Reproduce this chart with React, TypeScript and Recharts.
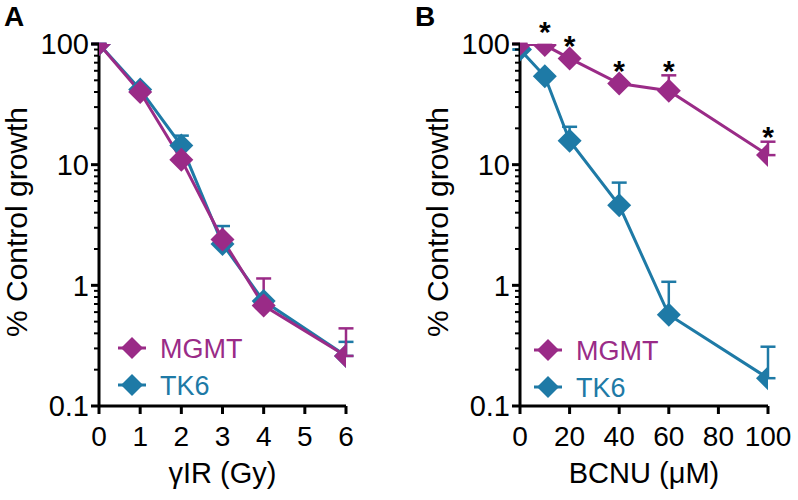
import React from 'react';
import { LineChart, Line, XAxis, YAxis, ErrorBar, LabelList, Legend } from 'recharts';

// ---------- data ----------
const seriesNames = ['MGMT', 'TK6'];

// Panel A: gamma IR (Gy)
const doseA = [0, 1, 2, 3, 4, 6];
const mgmtA = [100, 40, 11, 2.4, 0.68, 0.26];
const mgmtAErr = [0, 0, 0, 0, 0.46, 0.18];
const tk6A = [100, 42, 14.4, 2.2, 0.74, 0.26];
const tk6AErr = [0, 0, 3, 0.9, 0, 0.08];
const xTicksA = [0, 1, 2, 3, 4, 5, 6];

// Panel B: BCNU (uM)
const doseB = [0, 10, 20, 40, 60, 100];
const mgmtB = [100, 98, 76, 47, 41, 12];
const mgmtBErr = [0, 0, 0, 0, 14, 3.5];
const tk6B = [90, 54, 15.8, 4.6, 0.57, 0.17];
const tk6BErr = [0, 0, 4.8, 2.5, 0.5, 0.14];
const sigB = [false, true, true, true, true, true];
const xTicksB = [0, 20, 40, 60, 80, 100];

const yMajor = [0.1, 1, 10, 100];
const yMinor = [0.2, 0.3, 0.4, 0.5, 0.6, 0.7, 0.8, 0.9, 2, 3, 4, 5, 6, 7, 8, 9, 20, 30, 40, 50, 60, 70, 80, 90];
const yTicks = [...yMajor, ...yMinor].sort((a, b) => a - b);

// ---------- style ----------
const PURPLE = '#9a2b87';
const TEAL = '#1e7aa6';
const colors = [PURPLE, TEAL];
const FONT = '"Liberation Sans", Arial, Helvetica, sans-serif';
const W = 399;
const H = 500;
const PLOT_TOP = 44;
const X_AXIS_H = 94;

const buildData = (x: number[], m: number[], mErr: number[], t: number[], tErr: number[], sig?: boolean[]) =>
  x.map((xv, i) => ({
    x: xv,
    mgmt: m[i],
    mgmtErr: [0, mErr[i]],
    tk6: t[i],
    tk6Err: [0, tErr[i]],
    // anchor for significance marker: just above the point or its error cap
    star: Math.max(m[i] * 1.4, (m[i] + mErr[i]) * 1.2),
    sig: sig ? sig[i] : false,
  }));

const dataA = buildData(doseA, mgmtA, mgmtAErr, tk6A, tk6AErr);
const dataB = buildData(doseB, mgmtB, mgmtBErr, tk6B, tk6BErr, sigB);

const fmtY = (v: number) => (v < 1 ? String(v) : String(Math.round(v)));

const Diamond = ({ cx, cy, fill, w = 12, h = 12 }: any) => {
  if (cx == null || cy == null || isNaN(cx) || isNaN(cy)) return null;
  return <polygon points={`${cx},${cy - h} ${cx + w},${cy} ${cx},${cy + h} ${cx - w},${cy}`} fill={fill} />;
};

const YTick = (props: any) => {
  const { x, y, payload } = props;
  const v = payload.value;
  const major = yMajor.some((m) => Math.abs(m - v) < 1e-9);
  return (
    <g>
      <line x1={x} x2={x - (major ? 8 : 5)} y1={y} y2={y} stroke="#000" strokeWidth={major ? 3 : 2} />
      {major && (
        <text x={x - 10} y={y} dy="0.36em" textAnchor="end" fontSize={29} fontFamily={FONT} fill="#000">
          {fmtY(v)}
        </text>
      )}
    </g>
  );
};

const XTick = (props: any) => {
  const { x, y, payload } = props;
  return (
    <g>
      <line x1={x} x2={x} y1={y} y2={y + 8} stroke="#000" strokeWidth={3} />
      <text x={x} y={y + 40} textAnchor="middle" fontSize={28} fontFamily={FONT} fill="#000">
        {payload.value}
      </text>
    </g>
  );
};

const LegendBox = () => (
  <svg width={200} height={80} style={{ display: 'block' }}>
    {seriesNames.map((name, i) => {
      const cy = 18 + i * 37;
      return (
        <g key={name}>
          <line x1={8} x2={36} y1={cy} y2={cy} stroke={colors[i]} strokeWidth={3} />
          <Diamond cx={22} cy={cy} fill={colors[i]} w={11} h={11} />
          <text x={50} y={cy} dy="0.36em" fontSize={27} fontFamily={FONT} fill={colors[i]}>
            {name}
          </text>
        </g>
      );
    })}
  </svg>
);

type PanelProps = {
  data: any[];
  xTicks: number[];
  xDomain: [number, number];
  yAxisWidth: number;
  rightMargin: number;
  xTitle: string;
  legendLeft: number;
  legendTop: number;
  stars?: boolean;
};

const Panel = ({ data, xTicks, xDomain, yAxisWidth, rightMargin, xTitle, legendLeft, legendTop, stars }: PanelProps) => {
  const plotCenterX = (yAxisWidth + (W - rightMargin)) / 2;
  return (
    <LineChart width={W} height={H} data={data} margin={{ top: PLOT_TOP, right: rightMargin, bottom: 0, left: 0 }}>
      <XAxis
        type="number"
        dataKey="x"
        domain={xDomain}
        ticks={xTicks}
        interval={0}
        allowDataOverflow
        tickSize={0}
        tickMargin={0}
        tickLine={false}
        tick={(p: any) => <XTick {...p} />}
        axisLine={{ stroke: '#000', strokeWidth: 3 }}
        height={X_AXIS_H}
        label={() => (
          <text x={plotCenterX} y={H - 17} textAnchor="middle" fontSize={29} fontFamily={FONT} fill="#000">
            {xTitle}
          </text>
        )}
      />
      <YAxis
        type="number"
        scale="log"
        domain={[0.1, 100]}
        ticks={yTicks}
        interval={0}
        allowDataOverflow
        width={yAxisWidth}
        tickSize={0}
        tickMargin={0}
        tickLine={false}
        tick={(p: any) => <YTick {...p} />}
        axisLine={{ stroke: '#000', strokeWidth: 3 }}
        label={() => (
          <text
            transform={`translate(${yAxisWidth - 72}, 222) rotate(-90)`}
            textAnchor="middle"
            fontSize={30}
            fontFamily={FONT}
            fill="#000"
          >
            % Control growth
          </text>
        )}
      />
      <Legend
        verticalAlign="middle"
        align="center"
        layout="horizontal"
        wrapperStyle={{ left: legendLeft, top: legendTop, width: 200, height: 80 }}
        content={() => <LegendBox />}
      />
      <Line dataKey="tk6" name="TK6" type="linear" stroke={TEAL} strokeWidth={3} isAnimationActive={false} activeDot={false} dot={false}>
        <ErrorBar dataKey="tk6Err" direction="y" width={7.5} strokeWidth={2.5} stroke={TEAL} />
      </Line>
      <Line dataKey="mgmt" name="MGMT" type="linear" stroke={PURPLE} strokeWidth={3} isAnimationActive={false} activeDot={false} dot={false}>
        <ErrorBar dataKey="mgmtErr" direction="y" width={7.5} strokeWidth={2.5} stroke={PURPLE} />
      </Line>
      <Line
        dataKey="tk6"
        stroke="none"
        legendType="none"
        isAnimationActive={false}
        activeDot={false}
        dot={(p: any) => <Diamond key={`t${p.index}`} cx={p.cx} cy={p.cy} fill={TEAL} />}
      />
      <Line
        dataKey="mgmt"
        stroke="none"
        legendType="none"
        isAnimationActive={false}
        activeDot={false}
        dot={(p: any) => <Diamond key={`m${p.index}`} cx={p.cx} cy={p.cy} fill={PURPLE} />}
      />
      {stars && (
        <Line dataKey="star" stroke="none" dot={false} activeDot={false} legendType="none" isAnimationActive={false}>
          <LabelList
            dataKey="star"
            content={(p: any) =>
              data[p.index] && data[p.index].sig ? (
                <text x={p.x} y={p.y + 15} textAnchor="middle" fontSize={30} fontWeight="bold" fontFamily={FONT} fill="#000">
                  *
                </text>
              ) : null
            }
          />
        </Line>
      )}
    </LineChart>
  );
};

const letterStyle: React.CSSProperties = {
  position: 'absolute',
  top: 1,
  fontFamily: FONT,
  fontWeight: 'bold',
  fontSize: 28,
  lineHeight: '32px',
  color: '#000',
};

export default function App() {
  return (
    <div style={{ position: 'absolute', left: 0, top: 0, width: 798, height: 500, background: '#fff', overflow: 'hidden' }}>
      <div style={{ position: 'absolute', left: 0, top: 0 }}>
        <Panel
          data={dataA}
          xTicks={xTicksA}
          xDomain={[0, 6]}
          yAxisWidth={99}
          rightMargin={W - 346}
          xTitle="γIR (Gy)"
          legendLeft={110}
          legendTop={330}
        />
      </div>
      <div style={{ position: 'absolute', left: 400, top: 0 }}>
        <Panel
          data={dataB}
          xTicks={xTicksB}
          xDomain={[0, 100]}
          yAxisWidth={120}
          rightMargin={W - 368}
          xTitle="BCNU (μM)"
          legendLeft={126}
          legendTop={332}
          stars
        />
      </div>
      <div style={{ ...letterStyle, left: 4 }}>A</div>
      <div style={{ ...letterStyle, left: 415 }}>B</div>
    </div>
  );
}
